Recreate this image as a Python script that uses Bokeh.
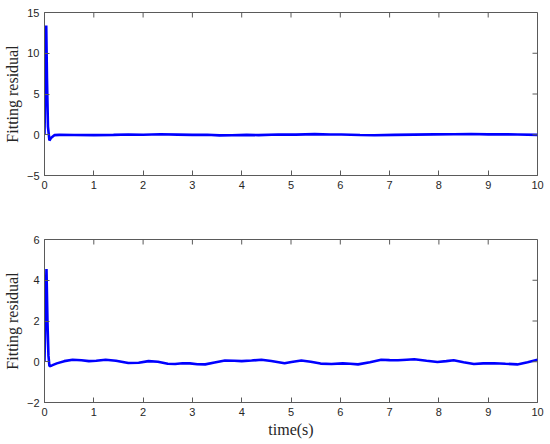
from bokeh.plotting import figure
from bokeh.layouts import column
from bokeh.models import FixedTicker, Range1d
from bokeh.embed import file_html
from bokeh.resources import INLINE

# ---- data ----
t_top = [0, 0.02, 0.035, 0.05, 0.07, 0.1, 0.13, 0.2, 0.3, 0.6, 1.0, 1.4, 1.7, 2.0, 2.35, 2.7,
         3.0, 3.3, 3.55, 3.8, 4.1, 4.34, 4.74, 5.1, 5.48, 5.8, 6.02, 6.4, 6.69, 7.1, 7.5,
         7.9, 8.3, 8.65, 9.0, 9.25, 9.6, 10.0]
r_top = [0, 8, 13.4, 7, 1, -0.7, -0.4, -0.05, -0.02, -0.03, -0.05, -0.02, 0.03, 0.0, 0.06, 0.02,
         -0.02, 0.0, -0.08, -0.06, -0.02, -0.05, 0.03, 0.02, 0.08, 0.03, 0.03, -0.03, -0.07, -0.01, 0.02,
         0.05, 0.06, 0.1, 0.05, 0.06, 0.03, -0.01]

t_bot = [0, 0.02, 0.04, 0.06, 0.08, 0.10, 0.15, 0.25, 0.4, 0.57, 0.75, 0.9, 1.05, 1.24, 1.45, 1.7,
         1.91, 2.11, 2.3, 2.5, 2.65, 2.8, 2.95, 3.1, 3.26, 3.45, 3.66, 3.85, 4.0, 4.2, 4.4, 4.6,
         4.87, 5.01, 5.21, 5.4, 5.6, 5.82, 6.05, 6.2, 6.36, 6.6, 6.83, 7.0, 7.17, 7.35, 7.5, 7.75,
         7.97, 8.15, 8.3, 8.5, 8.71, 8.9, 9.12, 9.35, 9.59, 9.8, 10.0]
r_bot = [0, 2.5, 4.55, 2.0, 0.3, -0.22, -0.18, -0.08, 0.03, 0.1, 0.07, 0.03, 0.05, 0.1, 0.05, -0.06,
         -0.05, 0.03, 0.0, -0.1, -0.11, -0.07, -0.08, -0.12, -0.13, -0.04, 0.06, 0.05, 0.03, 0.06, 0.1, 0.04,
         -0.07, -0.01, 0.06, 0.0, -0.09, -0.11, -0.08, -0.1, -0.13, -0.02, 0.1, 0.08, 0.07, 0.1, 0.12, 0.05,
         -0.01, 0.03, 0.07, -0.02, -0.11, -0.08, -0.07, -0.1, -0.13, -0.02, 0.1]

x_ticks = [0, 1, 2, 3, 4, 5, 6, 7, 8, 9, 10]
y_ticks_top = [-5, 0, 5, 10, 15]
y_ticks_bot = [-2, 0, 2, 4, 6]
y_label = "Fitting residual"
x_label = "time(s)"

AX = "#5a5a5a"
TXT = "#262626"
FRAME_W = 495
FRAME_H = 163
TICK_PX = 5


def style_axis(ax):
    ax.axis_line_color = AX
    ax.major_tick_line_color = AX
    ax.major_tick_in = TICK_PX
    ax.major_tick_out = 0
    ax.minor_tick_line_color = None
    ax.major_label_text_font = "Liberation Sans"
    ax.major_label_text_font_size = "11px"
    ax.major_label_text_color = TXT
    ax.major_label_standoff = 5


def make(t, r, yr, yt, height, border_top, border_bottom, xlab=None):
    p = figure(width=545, height=height, output_backend="svg", toolbar_location=None,
               x_range=Range1d(0, 10), y_range=Range1d(*yr),
               min_border_left=42, min_border_right=8,
               min_border_top=border_top, min_border_bottom=border_bottom)
    p.grid.visible = False
    p.outline_line_color = AX
    p.line(t, r, line_color="#0000ff", line_width=2.6)
    p.xaxis.ticker = FixedTicker(ticks=x_ticks)
    p.yaxis.ticker = FixedTicker(ticks=yt)
    style_axis(p.xaxis[0])
    style_axis(p.yaxis[0])
    p.yaxis.axis_label = y_label
    p.yaxis.axis_label_text_font = "Liberation Serif"
    p.yaxis.axis_label_text_font_size = "16px"
    p.yaxis.axis_label_text_font_style = "normal"
    p.yaxis.axis_label_text_color = TXT
    p.yaxis.axis_label_standoff = 3
    if xlab:
        p.xaxis.axis_label = xlab
        p.xaxis.axis_label_text_font = "Liberation Serif"
        p.xaxis.axis_label_text_font_size = "16px"
        p.xaxis.axis_label_text_font_style = "normal"
        p.xaxis.axis_label_text_color = TXT
        p.xaxis.axis_label_standoff = 2
    # inward ticks on the top and right edges of the box (from the tick lists)
    ylo, yhi = yr
    dy = (yhi - ylo) / FRAME_H * TICK_PX
    dx = 10.0 / FRAME_W * TICK_PX
    p.segment(x0=x_ticks, y0=[yhi] * len(x_ticks), x1=x_ticks, y1=[yhi - dy] * len(x_ticks),
              line_color=AX, line_width=1)
    p.segment(x0=[10] * len(yt), y0=yt, x1=[10 - dx] * len(yt), y1=yt,
              line_color=AX, line_width=1)
    return p


p1 = make(t_top, r_top, (-5, 15), y_ticks_top, 12 + FRAME_H + 32, 12, 32)
p2 = make(t_bot, r_bot, (-2, 6), y_ticks_bot, 32 + FRAME_H + 40, 32, 40, xlab=x_label)

layout = column(p1, p2, spacing=0)
open("out.html", "w").write(file_html(layout, INLINE))
